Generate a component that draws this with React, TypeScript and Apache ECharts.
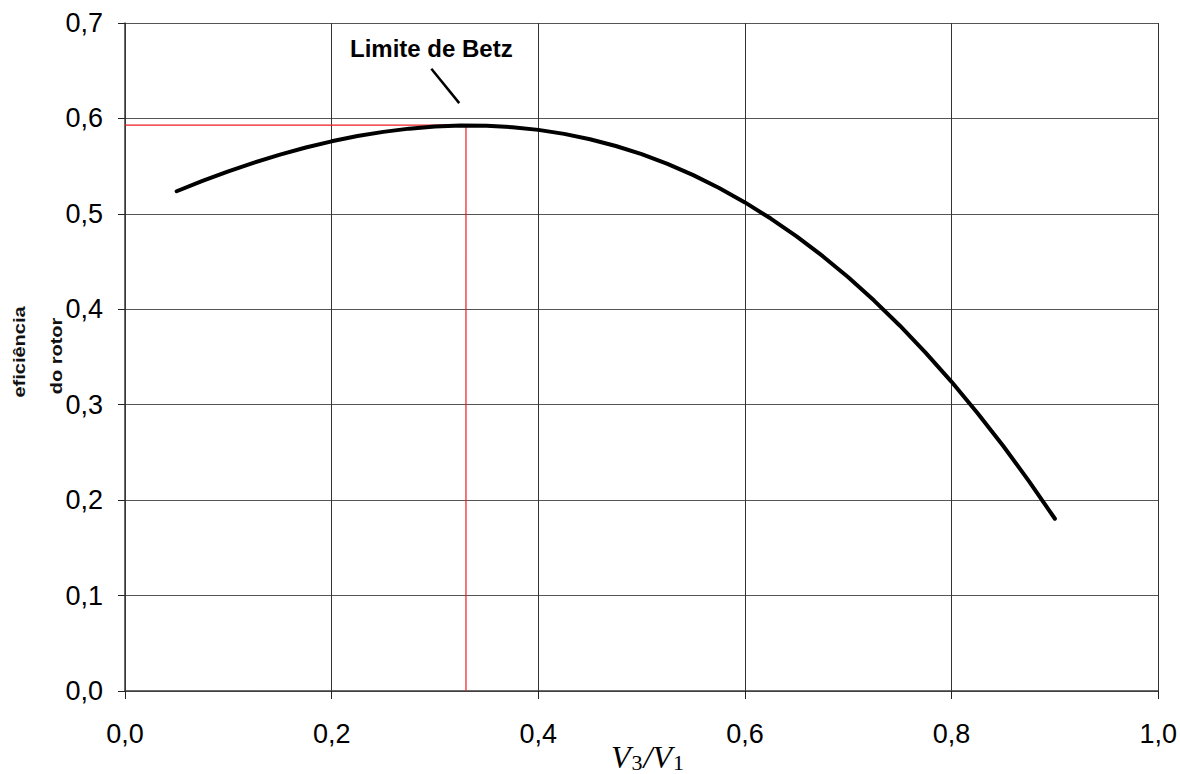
import React, { useEffect, useRef } from "react";
import * as echarts from "echarts";

// Speed ratio V3/V1 and the rotor efficiency
const ratio = [
  0.05, 0.075, 0.1, 0.125, 0.15, 0.175, 0.2, 0.225, 0.25, 0.275, 0.3, 0.325, 0.35, 0.375, 0.4, 0.425, 0.45, 0.475,
  0.5, 0.525, 0.55, 0.575, 0.6, 0.625, 0.65, 0.675, 0.7, 0.725, 0.75, 0.775, 0.8, 0.825, 0.85, 0.875, 0.9,
];
const efficiency = [
  0.5237, 0.5345, 0.5445, 0.5537, 0.5621, 0.5695, 0.576, 0.5815, 0.5859, 0.5893, 0.5915, 0.5925, 0.5923, 0.5908, 0.588,
  0.5838, 0.5782, 0.5711, 0.5625, 0.5523, 0.5406, 0.5271, 0.512, 0.4951, 0.4764, 0.4559, 0.4335, 0.4091, 0.3828, 0.3544,
  0.324, 0.2914, 0.2567, 0.2197, 0.1805,
];

// Betz limit marker (maximum efficiency and the ratio where it occurs)
const betzRatio = [0, 0.33, 0.33];
const betzValue = [0.593, 0.593, 0];

// Leader line from the "Limite de Betz" label towards the peak
const leaderX = [0.2965, 0.3235];
const leaderY = [0.652, 0.616];

const xTicks = { min: 0, max: 1.0, interval: 0.2 };
const yTicks = { min: 0, max: 0.7, interval: 0.1 };

const SANS = "'Liberation Sans', Arial, sans-serif";
const SERIF = "'Liberation Serif', 'Times New Roman', serif";

const pairs = (xs: number[], ys: number[]) => xs.map((x, i) => [x, ys[i]]);
const comma = (v: number) => v.toFixed(1).replace(".", ",");

export default function App() {
  const ref = useRef<HTMLDivElement>(null);

  useEffect(() => {
    if (!ref.current) return;
    const chart = echarts.init(ref.current, undefined, { renderer: "svg" });
    chart.setOption({
      animation: false,
      backgroundColor: "#ffffff",
      grid: { left: 125, right: 19, top: 23, bottom: 83, containLabel: false },
      xAxis: {
        type: "value",
        ...xTicks,
        axisLine: { show: true, onZero: false, lineStyle: { color: "#3a3a3a", width: 1.5 } },
        axisTick: { show: true, inside: false, length: 8, lineStyle: { color: "#222", width: 1 } },
        axisLabel: { margin: 29, fontFamily: SANS, fontSize: 27, color: "#000", formatter: comma },
        splitLine: { show: true, lineStyle: { color: "#333", width: 1 } },
      },
      yAxis: {
        type: "value",
        ...yTicks,
        axisLine: { show: true, onZero: false, lineStyle: { color: "#3a3a3a", width: 1.5 } },
        axisTick: { show: true, inside: false, length: 7, lineStyle: { color: "#222", width: 1 } },
        axisLabel: { margin: 22, fontFamily: SANS, fontSize: 27, color: "#000", formatter: comma },
        splitLine: { show: true, lineStyle: { color: "#555", width: 1 } },
      },
      series: [
        {
          type: "line",
          data: pairs(betzRatio, betzValue),
          symbol: "none",
          lineStyle: { color: "#ee1c25", width: 1.2 },
          z: 3,
        },
        {
          type: "line",
          data: pairs(ratio, efficiency),
          smooth: false,
          symbol: "none",
          lineStyle: { color: "#000", width: 4, cap: "round", join: "round" },
          z: 4,
        },
        {
          type: "line",
          data: pairs(leaderX, leaderY),
          symbol: "none",
          lineStyle: { color: "#000", width: 2.5 },
          z: 4,
        },
      ],
      graphic: [
        {
          type: "text",
          left: 350,
          top: 36,
          style: { text: "Limite de Betz", fontFamily: SANS, fontWeight: "bold", fontSize: 24, fill: "#000" },
        },
        {
          type: "text",
          x: 20,
          y: 352,
          rotation: Math.PI / 2,
          scaleY: 0.8,
          style: {
            text: "eficiência",
            fontFamily: SANS,
            fontWeight: "bold",
            fontSize: 20,
            fill: "#111",
            align: "center",
            verticalAlign: "middle",
          },
        },
        {
          type: "text",
          x: 57,
          y: 356,
          rotation: Math.PI / 2,
          scaleY: 0.8,
          style: {
            text: "do rotor",
            fontFamily: SANS,
            fontWeight: "bold",
            fontSize: 20,
            fill: "#111",
            align: "center",
            verticalAlign: "middle",
          },
        },
        {
          type: "text",
          left: 611,
          top: 735,
          style: {
            text: "{v|V}{s|3}{v|/V}{s|1}",
            fill: "#000",
            rich: {
              v: { fontFamily: SERIF, fontStyle: "italic", fontSize: 32, lineHeight: 32, verticalAlign: "top", fill: "#000" },
              s: { fontFamily: SERIF, fontSize: 22, lineHeight: 24, padding: [16, 1, 0, 1], verticalAlign: "bottom", fill: "#000" },
            },
          },
        },
      ],
    });
    return () => chart.dispose();
  }, []);

  return <div ref={ref} style={{ position: "fixed", left: 0, top: 0, width: 1180, height: 774 }} />;
}
